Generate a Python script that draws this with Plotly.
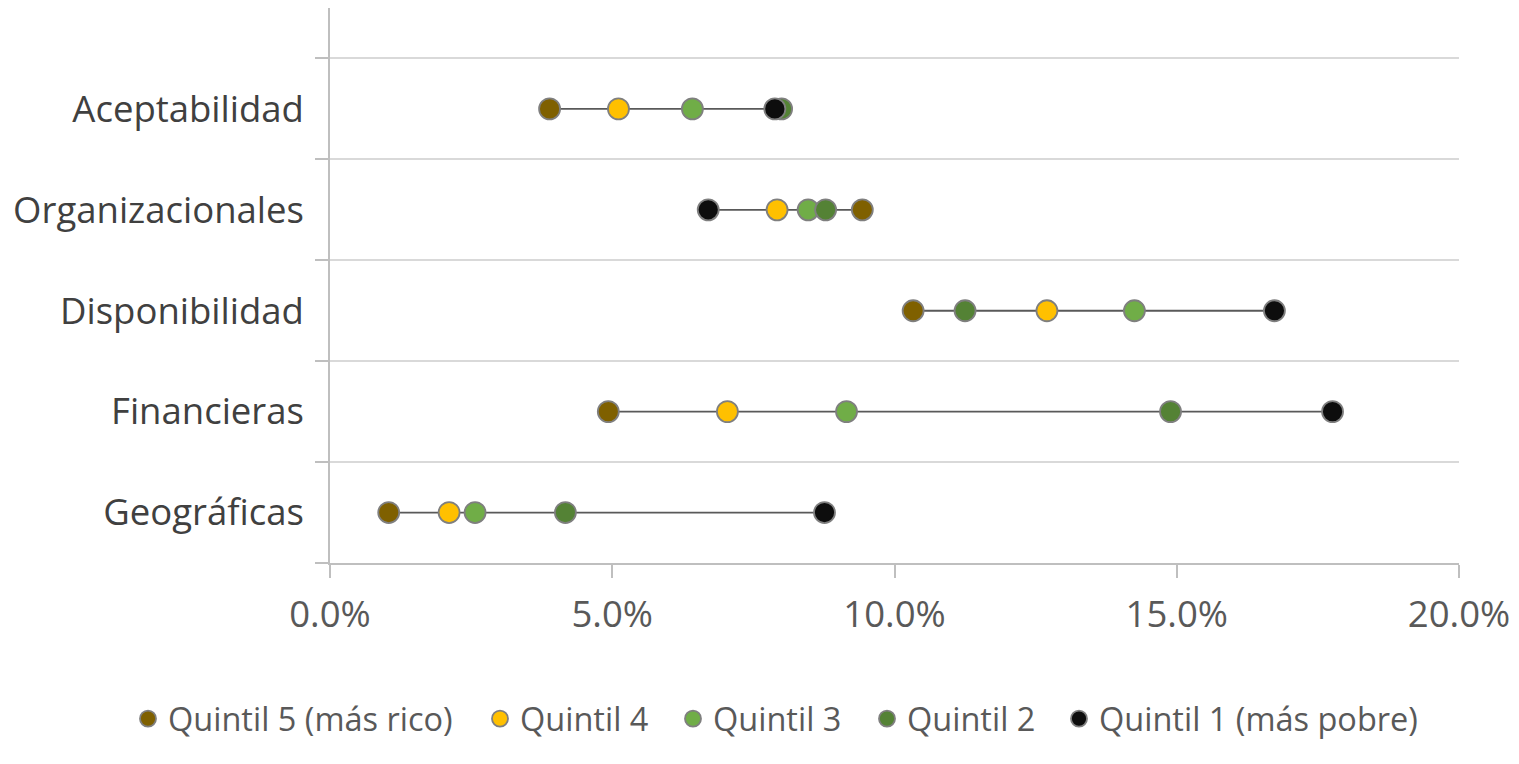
import plotly.graph_objects as go

# Barrier categories, listed bottom to top
categories = ["Geográficas", "Financieras", "Disponibilidad", "Organizacionales", "Aceptabilidad"]

# Share of population reporting each barrier, by income quintil
quintil_5 = [0.0104, 0.0493, 0.1033, 0.0943, 0.0389]
quintil_4 = [0.0211, 0.0704, 0.1270, 0.0792, 0.0511]
quintil_3 = [0.0257, 0.0915, 0.1425, 0.0847, 0.0642]
quintil_2 = [0.0417, 0.1489, 0.1125, 0.0878, 0.0800]
quintil_1 = [0.0876, 0.1776, 0.1673, 0.0670, 0.0788]

series_names = ["Quintil 5 (más rico)", "Quintil 4", "Quintil 3", "Quintil 2", "Quintil 1 (más pobre)"]
series_values = [quintil_5, quintil_4, quintil_3, quintil_2, quintil_1]
series_colors = ["#7F6000", "#FFC000", "#70AD47", "#548235", "#0D0D0D"]

tick_values = [0.0, 0.05, 0.10, 0.15, 0.20]

# Plot-area geometry in pixels, used to place the legend entries in one row
W, H = 1519, 764
M_L, M_R, M_T, M_B = 330, 60, 8, 201
plot_w = W - M_L - M_R
plot_h = H - M_T - M_B
legend_left_px = [128, 480, 673, 867, 1059]
legend_mid_px = 719

fig = go.Figure()

# Connector from the lowest to the highest quintil in each category
line_x, line_y = [], []
for i, cat in enumerate(categories):
    vals = [s[i] for s in series_values]
    line_x += [min(vals), max(vals), None]
    line_y += [cat, cat, None]
fig.add_trace(go.Scatter(
    x=line_x, y=line_y, mode="lines",
    line=dict(color="#595959", width=1.8),
    showlegend=False, hoverinfo="skip",
))

legend_layout = {}
for k, (name, vals, color) in enumerate(zip(series_names, series_values, series_colors)):
    key = "legend" if k == 0 else f"legend{k + 1}"
    fig.add_trace(go.Scatter(
        x=vals, y=categories, mode="markers", name=name, legend=key,
        marker=dict(size=21, color=color, line=dict(color="#7F7F7F", width=1.8)),
    ))
    legend_layout[key] = dict(
        orientation="h",
        x=(legend_left_px[k] - M_L) / plot_w, xanchor="left",
        y=-(legend_mid_px - (H - M_B)) / plot_h, yanchor="middle",
        font=dict(size=32.5, color="#595959"),
        itemsizing="trace",
        bgcolor="rgba(0,0,0,0)",
    )

fig.update_layout(
    width=W, height=H,
    margin=dict(l=M_L, r=M_R, t=M_T, b=M_B, autoexpand=False),
    paper_bgcolor="white", plot_bgcolor="white",
    font=dict(family="Open Sans", color="#595959"),
    showlegend=True,
    xaxis=dict(
        range=[0, 0.20], tickvals=tick_values, tickformat=".1%",
        showgrid=False, zeroline=False,
        showline=True, linecolor="#BFBFBF", linewidth=1.5,
        ticks="outside", ticklen=13, tickcolor="#BFBFBF", tickwidth=1.5,
        tickfont=dict(size=36.5, color="#595959"),
        ticklabelstandoff=5, tickangle=0,
        fixedrange=True,
    ),
    yaxis=dict(
        type="category", categoryorder="array", categoryarray=categories,
        range=[-0.5, 5.0], tickson="boundaries",
        showgrid=True, gridcolor="#D9D9D9", gridwidth=1.5,
        showline=True, linecolor="#BFBFBF", linewidth=1.5,
        ticks="outside", ticklen=13, tickcolor="#BFBFBF", tickwidth=1.5,
        tickfont=dict(size=36.5, color="#404040"),
        ticklabelstandoff=17,
        fixedrange=True,
    ),
    **legend_layout,
)

fig.write_html("out.html")
